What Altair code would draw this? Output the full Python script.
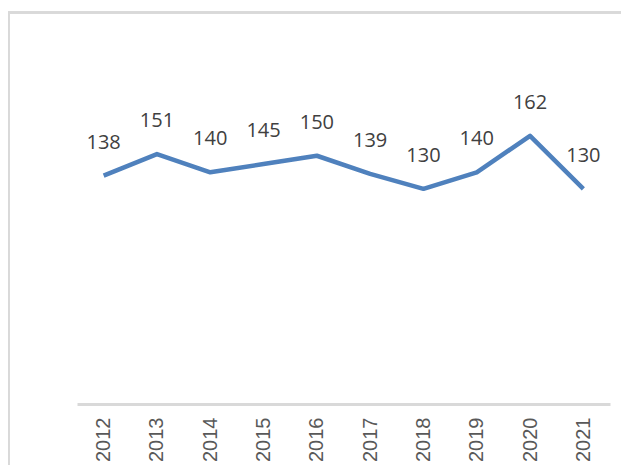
import altair as alt
import pandas as pd

years = ["2012", "2013", "2014", "2015", "2016", "2017", "2018", "2019", "2020", "2021"]
values = [138, 151, 140, 145, 150, 139, 130, 140, 162, 130]

df = pd.DataFrame({"year": years, "value": values})

PW, PH = 533, 331
PAD_L, PAD_T = 69, 65
PAD_R = 613 - PAD_L - PW
PAD_B = 457 - PAD_T - PH

base = alt.Chart(df).encode(
    x=alt.X("year:N", sort=years,
            scale=alt.Scale(paddingInner=0, paddingOuter=0),
            axis=alt.Axis(title=None, labelAngle=-90, labelFont="Liberation Sans",
                          labelFontSize=20, labelColor="#595959", labelPadding=13,
                          labelAlign="right", labelBaseline="middle",
                          domainColor="#d9d9d9", domainWidth=3, ticks=False, grid=False)),
    y=alt.Y("value:Q", scale=alt.Scale(domain=[0, 200]), axis=None),
)

line = base.mark_line(color="#4f81bd", strokeWidth=4.5, strokeJoin="round", strokeCap="butt")
labels = base.mark_text(dy=-33, baseline="middle", align="center", font="Open Sans",
                        fontSize=20, color="#404040").encode(text="value:Q")

border_top = alt.Chart(df).mark_rule(color="#d9d9d9", strokeWidth=2).encode(
    x=alt.value(-PAD_L), x2=alt.value(PW + PAD_R), y=alt.value(-PAD_T + 4.5))
border_left = alt.Chart(df).mark_rule(color="#d9d9d9", strokeWidth=2).encode(
    x=alt.value(-PAD_L + 0.5), y=alt.value(-PAD_T + 4), y2=alt.value(PH + PAD_B))

chart = alt.layer(border_top, border_left, line, labels).properties(
    width=PW, height=PH,
    autosize=alt.AutoSizeParams(type="none"),
    padding={"left": PAD_L, "top": PAD_T, "right": PAD_R, "bottom": PAD_B},
).configure_view(stroke=None)

chart.save("out.html", embed_options={"renderer": "svg", "actions": False})
